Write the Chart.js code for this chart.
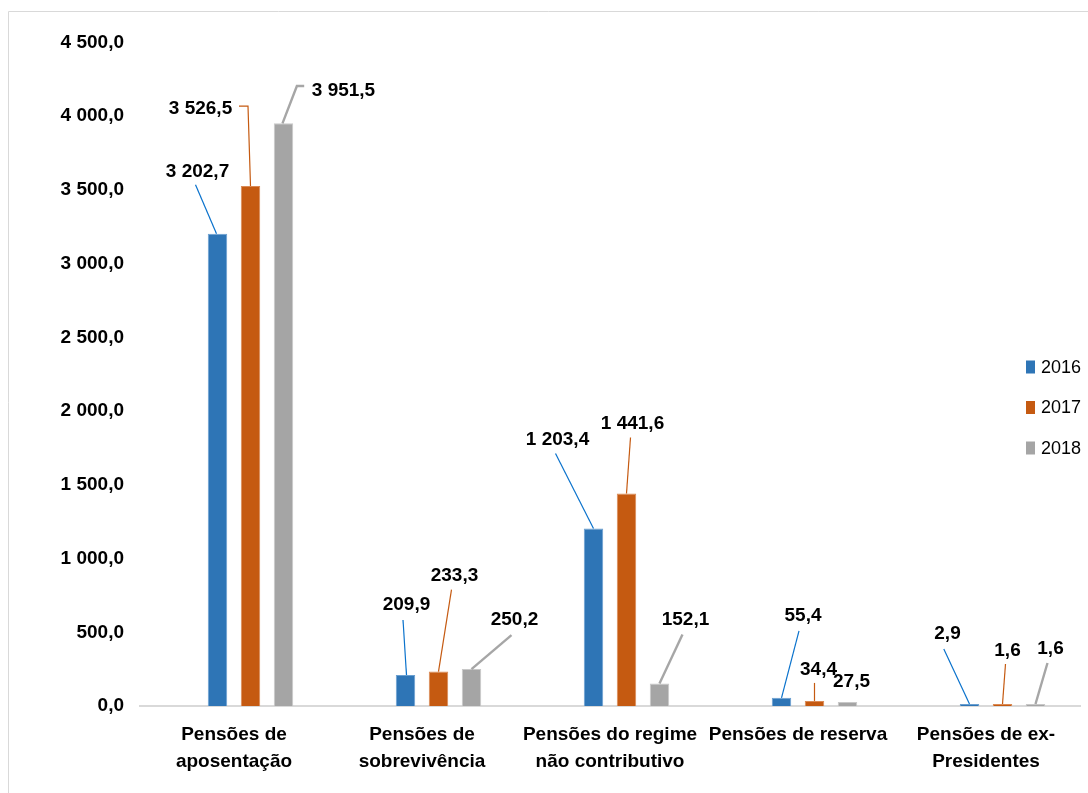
<!DOCTYPE html>
<html><head><meta charset="utf-8">
<script src="https://cdn.jsdelivr.net/npm/chart.js@4.4.1/dist/chart.umd.min.js"></script>
<style>html,body{margin:0;padding:0;background:#fff;overflow:hidden}canvas{display:block}</style>
</head><body>
<canvas id="c" width="1088" height="793"></canvas>
<script>
// ---- data ----
const categories = [
  ['Pensões de', 'aposentação'],
  ['Pensões de', 'sobrevivência'],
  ['Pensões do regime', 'não contributivo'],
  ['Pensões de reserva'],
  ['Pensões de ex-', 'Presidentes']
];
const seriesNames = ['2016', '2017', '2018'];
const values2016 = [3202.7, 209.9, 1203.4, 55.4, 2.9];
const values2017 = [3526.5, 233.3, 1441.6, 34.4, 1.6];
const values2018 = [3951.5, 250.2, 152.1, 27.5, 1.6];
const yTickValues = [0, 500, 1000, 1500, 2000, 2500, 3000, 3500, 4000, 4500];

// ---- styles ----
const FONT = "'Liberation Sans', Arial, sans-serif";
const barColors = ['#2E75B6', '#C55A11', '#A5A5A5'];
const barBorders = ['#6A9FD0', '#DA8A55', '#C8C8C8'];
const leaderColors = ['#0A72CC', '#C55A11', '#A6A6A6'];
const leaderWidths = [1.2, 1.2, 2.4];

// label placement relative to bar top (style, not data)
const labelPlacement = [
  { offset: [[-20,-62],[1,-70],[-36,-89],[21.5,-82],[-22,-70]],
    leader: [[[-1,0],[-22,-49]], [[1,0],[-2.5,-55]], [[0,0],[-38,-75]], [[0,0],[17.5,-67]], [[0,0],[-25.7,-55]]] },
  { offset: [[-50,-77],[16,-96],[6,-70],[4,-31],[5,-53]],
    leader: [[[0,0],[-2.5,-80],[-11.5,-80]], [[0,0],[13,-82]], [[0,0],[4,-56]], [[0,0],[0,-18]], [[0,0],[3,-40]]] },
  { offset: [[60,-33],[43,-49],[26,-64],[4,-20],[15,-55]],
    leader: [[[-1,0],[13.4,-37.4],[20.7,-37.4]], [[0,0],[40,-34]], [[0,0],[23,-49]], null, [[0,0],[12,-41]]] }
];

function fmt(v) {
  const s = Math.abs(v).toFixed(1);
  let [i, d] = s.split('.');
  i = i.replace(/\B(?=(\d{3})+(?!\d))/g, ' ');
  return (v < 0 ? '-' : '') + i + ',' + d;
}

const seriesValues = [values2016, values2017, values2018];

const framePlugin = {
  id: 'frame',
  beforeDraw(chart) {
    const ctx = chart.ctx;
    ctx.save();
    ctx.strokeStyle = '#D9D9D9';
    ctx.lineWidth = 1;
    ctx.beginPath();
    ctx.moveTo(8.5, chart.height);
    ctx.lineTo(8.5, 11.5);
    ctx.lineTo(chart.width, 11.5);
    ctx.stroke();
    ctx.restore();
  }
};

const labelPlugin = {
  id: 'leaderLabels',
  afterDatasetsDraw(chart) {
    const ctx = chart.ctx;
    ctx.save();
    chart.data.datasets.forEach((ds, di) => {
      const s = ds.seriesIndex;
      if (s === undefined) return;
      const meta = chart.getDatasetMeta(di);
      meta.data.forEach((el, j) => {
        const bx = el.x, by = el.y;
        const pl = labelPlacement[s];
        const path = pl.leader[j];
        if (path) {
          ctx.strokeStyle = leaderColors[s];
          ctx.lineWidth = leaderWidths[s];
          ctx.beginPath();
          path.forEach((p, k) => {
            const px = bx + p[0], py = by + p[1];
            if (k === 0) ctx.moveTo(px, py); else ctx.lineTo(px, py);
          });
          ctx.stroke();
        }
        const [dx, dy] = pl.offset[j];
        ctx.fillStyle = '#000';
        ctx.font = 'bold 19px ' + FONT;
        ctx.textAlign = 'center';
        ctx.textBaseline = 'middle';
        ctx.fillText(fmt(ds.data[j]), bx + dx, by + dy);
      });
    });
    ctx.restore();
  }
};

const legendPlugin = {
  id: 'sideLegend',
  afterDraw(chart) {
    const ctx = chart.ctx;
    const a = chart.chartArea;
    ctx.save();
    ctx.font = '18px ' + FONT;
    ctx.textAlign = 'left';
    ctx.textBaseline = 'middle';
    chart.data.datasets.forEach((ds) => {
      const s = ds.seriesIndex;
      if (s === undefined) return;
      const x = a.right - 54;
      const y = 367 + s * 40.5;
      ctx.fillStyle = ds.backgroundColor;
      ctx.fillRect(x, y - 6.5, 9, 13);
      ctx.fillStyle = '#000';
      ctx.fillText(ds.label, x + 15, y + 1);
    });
    ctx.restore();
  }
};

const datasets = [
  // empty spacer slot (Excel layout leaves the bars offset within each category)
  { label: '', data: [], backgroundColor: 'rgba(0,0,0,0)' }
].concat(seriesNames.map((name, s) => ({
  label: name,
  seriesIndex: s,
  data: seriesValues[s],
  backgroundColor: barColors[s],
  borderColor: barBorders[s],
  borderWidth: 1,
  borderSkipped: 'start',
  minBarLength: 2
})));

new Chart(document.getElementById('c'), {
  type: 'bar',
  data: { labels: categories, datasets },
  plugins: [framePlugin, labelPlugin, legendPlugin],
  options: {
    responsive: false,
    animation: false,
    devicePixelRatio: 1,
    categoryPercentage: 0.702,
    barPercentage: 0.59,
    layout: { padding: { left: 0, right: 8, top: 42.5, bottom: 0 } },
    plugins: { legend: { display: false }, tooltip: { enabled: false } },
    scales: {
      x: {
        grid: { display: false, drawTicks: false },
        border: { display: true, color: '#D9D9D9', width: 2 },
        ticks: {
          color: '#000',
          padding: 15,
          maxRotation: 0,
          autoSkip: false,
          font: { family: FONT, size: 19, weight: 'bold', lineHeight: 1.42 }
        },
        afterFit(scale) { scale.height = 87; }
      },
      y: {
        min: 0, max: 4500,
        grid: { display: false, drawTicks: false },
        border: { display: false },
        afterBuildTicks(scale) { scale.ticks = yTickValues.map(v => ({ value: v })); },
        ticks: {
          color: '#000',
          padding: 16,
          callback: (v) => fmt(v),
          font: { family: FONT, size: 19, weight: 'bold' }
        },
        afterFit(scale) { scale.width = 140; }
      }
    }
  }
});
</script>
</body></html>
